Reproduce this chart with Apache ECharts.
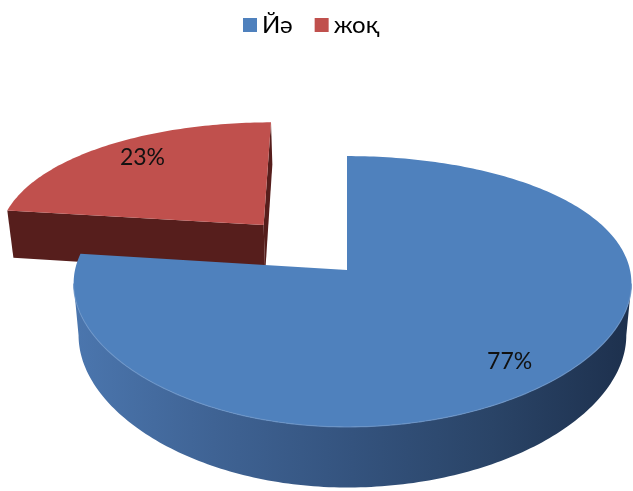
<!DOCTYPE html>
<html>
<head>
<meta charset="utf-8">
<script src="https://cdn.jsdelivr.net/npm/echarts@6.0.0/dist/echarts.min.js"></script>
<style>
  html, body { margin: 0; padding: 0; background: #ffffff; }
  #chart { width: 633px; height: 491px; }
</style>
</head>
<body>
<div id="chart"></div>
<script>
// Survey answers and their shares
const categories = ['Йә', 'жоқ'];
const values = [77, 23];

// Slice styling
const topColors = ['#4f81bd', '#c0504d'];
const faceColors = ['#1f3350', '#561e1c'];
const rimColors = ['#6a93c7', null];
const explodeBy = [0, 0.48];
const FONT = 'Lato, "Noto Sans", sans-serif';

// Tilted-disc projection: u runs left→right, v runs back→front, h is the slab depth (0 = top, 1 = bottom)
const view = { cx: 347, cy: 270, rxL: 272, rxR: 283, ry: 132, depth: 51, kx: 0.1, ky: 0.1587, taper: 0.018 };
function project(u, v, h) {
  const rx = u < 0 ? view.rxL : view.rxR;
  const sx = 1 - view.kx * v;
  const sy = 1 - view.ky * v;
  return [
    view.cx + rx * u / sx * (1 - view.taper * h),
    view.cy + (view.ry * v + view.depth * h) / sy
  ];
}

const TAU = Math.PI * 2;
const total = values.reduce((a, b) => a + b, 0);
const startAngles = [];
values.reduce((acc, v) => { startAngles.push(acc / total * TAU); return acc + v; }, 0);

// outer wall is visible between the two silhouette angles
const wallFrom = Math.acos(-view.kx);
const wallTo = TAU - wallFrom;

function rimPoint(ou, ov, a, h) {
  return project(ou + Math.sin(a), ov - Math.cos(a), h);
}
function arcPoints(ou, ov, a0, a1, h) {
  const n = Math.max(2, Math.ceil(Math.abs(a1 - a0) / (Math.PI / 180)));
  const pts = [];
  for (let j = 0; j <= n; j++) pts.push(rimPoint(ou, ov, a0 + (a1 - a0) * j / n, h));
  return pts;
}

function wallGradient() {
  return new echarts.graphic.LinearGradient(0, 0, 1, 0, [
    { offset: 0, color: '#4b76ae' },
    { offset: 0.25, color: '#3f6394' },
    { offset: 0.5, color: '#34537e' },
    { offset: 0.75, color: '#2a4467' },
    { offset: 1, color: '#1d304d' }
  ]);
}

function renderSlice(i) {
  return function (params, api) {
    const val = api.value(0);
    const a0 = startAngles[i];
    const a1 = a0 + val / total * TAU;
    const mid = (a0 + a1) / 2;
    const e = explodeBy[i];
    const ou = e * Math.sin(mid);
    const ov = -e * Math.cos(mid);
    const apexTop = project(ou, ov, 0);
    const apexBot = project(ou, ov, 1);
    const children = [];

    // radial cut faces, only those turned toward the viewer
    [[a0, -1], [a1, 1]].forEach(function (f) {
      const a = f[0];
      const facing = f[1] * Math.sin(a);
      if (facing < -0.01) return;
      children.push({
        type: 'polygon',
        shape: { points: [apexTop, rimPoint(ou, ov, a, 0), rimPoint(ou, ov, a, 1), apexBot] },
        style: { fill: faceColors[i] }
      });
    });

    // curved outer wall
    const w0 = Math.max(a0, wallFrom);
    const w1 = Math.min(a1, wallTo);
    let frontRim = null;
    if (w1 > w0) {
      const topEdge = arcPoints(ou, ov, w0, w1, 0);
      const botEdge = arcPoints(ou, ov, w0, w1, 1).reverse();
      children.push({
        type: 'polygon',
        shape: { points: topEdge.concat(botEdge) },
        style: { fill: wallGradient() }
      });
      frontRim = topEdge;
    }

    // top face
    children.push({
      type: 'polygon',
      shape: { points: [apexTop].concat(arcPoints(ou, ov, a0, a1, 0)) },
      style: { fill: topColors[i] }
    });

    // soft highlight where the top meets the wall
    if (frontRim && rimColors[i]) {
      children.push({
        type: 'polyline',
        shape: { points: frontRim },
        style: { stroke: rimColors[i], lineWidth: 1.2, fill: null, opacity: 0.8 }
      });
    }

    // percentage label on the top face
    const r = 0.83;
    const lp = project(ou + r * Math.sin(mid), ov - r * Math.cos(mid), 0);
    children.push({
      type: 'text',
      style: {
        x: lp[0] + (i === 1 ? 10 : -3), y: lp[1],
        text: Math.round(val / total * 100) + '%',
        fill: '#111111',
        fontSize: 23,
        fontFamily: FONT,
        align: 'center',
        verticalAlign: 'middle'
      }
    });

    return { type: 'group', children: children };
  };
}

const chart = echarts.init(document.getElementById('chart'), null, { renderer: 'canvas' });

const series = categories.map(function (name, i) {
  return {
    type: 'custom',
    name: name,
    coordinateSystem: 'none',
    // the exploded slice sits behind the main one
    z: i === 0 ? 3 : 2,
    itemStyle: { color: topColors[i] },
    data: [[values[i]]],
    renderItem: renderSlice(i)
  };
});

chart.setOption({
  backgroundColor: '#ffffff',
  animation: false,
  legend: {
    data: categories.map(function (name) { return { name: name, icon: 'rect' }; }),
    left: 238,
    top: 8,
    itemWidth: 14,
    itemHeight: 14,
    itemGap: 22,
    textStyle: { fontSize: 24, fontFamily: FONT, color: '#000000' }
  },
  series: series
});
</script>
</body>
</html>
